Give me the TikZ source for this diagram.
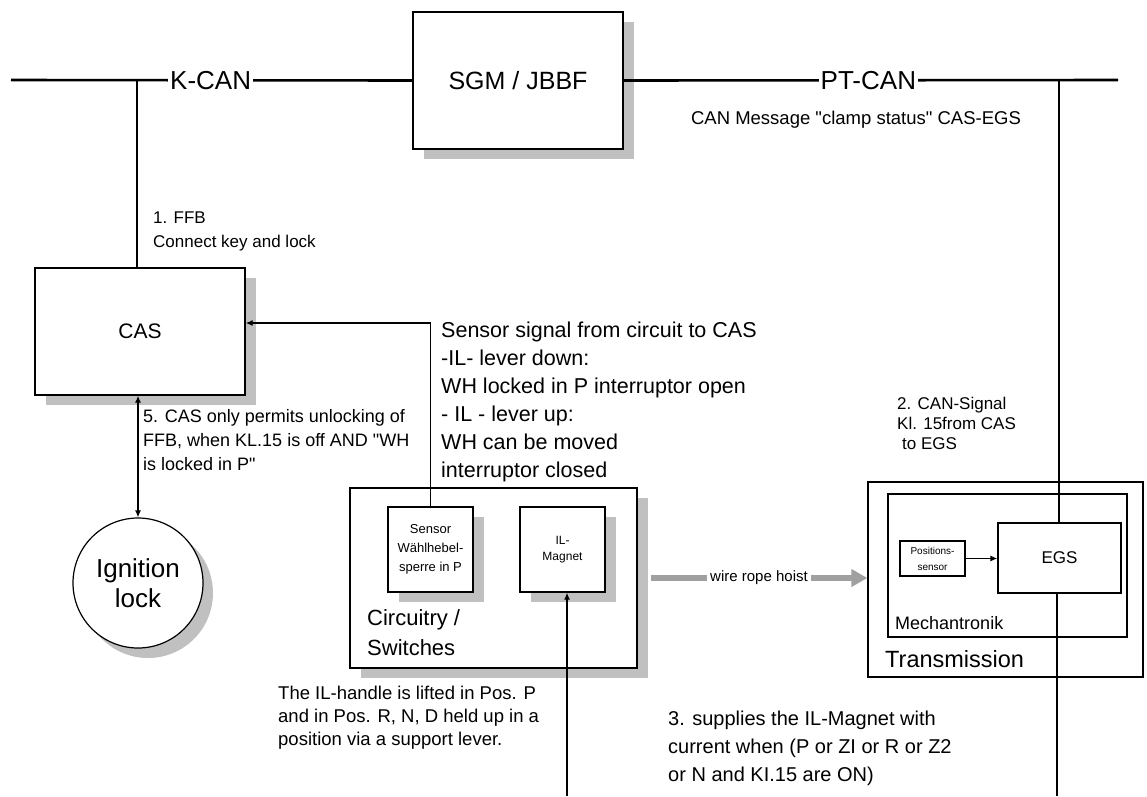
\documentclass[tikz,border=0pt]{standalone}
\usepackage{fontspec}
\setmainfont{Liberation Sans}[Ligatures=TeXOff]
\usetikzlibrary{shadows,arrows.meta,calc}
\definecolor{shadegrey}{RGB}{192,192,192}
\definecolor{hoistgrey}{RGB}{160,160,160}
\newcommand\fs[2]{\fontsize{#1}{#2}\selectfont}
\begin{document}
\begin{tikzpicture}[x=1pt,y=-1pt,
  box/.style={draw, line width=1.3pt, fill=white, inner sep=0pt, rectangle},
  shbox/.style={box, general shadow={fill=shadegrey, shadow xshift=11pt, shadow yshift=-10pt}},
  bus/.style={line width=2.6pt},
  wire/.style={line width=1.3pt},
  tip/.style={-{Latex[length=7pt,width=6pt]}},
  txt/.style={inner sep=0pt, anchor=north west, align=left},
  buslabel/.style={fill=white, inner sep=2pt, font=\fs{26}{30}},
]
\useasboundingbox (0,0) rectangle (1147,796);

% ---------- boxes ----------
\node[shbox, minimum width=210pt, minimum height=137pt, font=\fs{25}{30}] (sgm) at (518,80.5) {SGM / JBBF};
\node[shbox, minimum width=210pt, minimum height=127pt, font=\fs{21}{26}] (cas) at (140,331.5) {CAS};
\node[draw, circle, line width=1.2pt, fill=white, inner sep=0pt, minimum size=130pt, align=center,
      general shadow={fill=shadegrey, shadow xshift=10pt, shadow yshift=-10pt},
      font=\fs{26}{30}] (ign) at (138,583) {Ignition\\lock};

\node[shbox, minimum width=287pt, minimum height=180pt] (circ) at (493.5,578) {};
\node[shbox, minimum width=85pt, minimum height=85pt, align=center, font=\fs{13}{19}] (sens) at (430.5,549.5) {Sensor\\Wählhebel-\\sperre in P};
\node[shbox, minimum width=85pt, minimum height=85pt, align=center, font=\fs{12}{16}] (ilm) at (562.5,549.5) {IL-\\Magnet};
\node[txt, font=\fs{22}{30}] (tcirc) at (367,609) {Circuitry /\\Switches};

\node[box, minimum width=275pt, minimum height=195pt] (trans) at (1005.5,579.5) {};
\node[box, minimum width=239pt, minimum height=143pt] (mech) at (1007.5,565.5) {};
\node[box, minimum width=65pt, minimum height=35pt, align=center, font=\fs{10}{16}] (pos) at (932.5,558.5) {Positions-\\sensor};
\node[box, minimum width=123pt, minimum height=70pt, font=\fs{17}{20}] (egs) at (1059.5,558) {EGS};
\node[txt, font=\fs{18}{22}] (tmech) at (895,616.5) {Mechantronik};
\node[txt, font=\fs{23.5}{28}] (ttrans) at (885,650.5) {Transmission};

% ---------- buses ----------
\coordinate (kl) at (11,80);
\coordinate (kr) at (1118,80);
\coordinate (kdrop) at (137,80);
\coordinate (pdrop) at (1059,80);
\draw[bus] (kl) -- node[pos=0.4975, buslabel] {K-CAN} (sgm.west);
\draw[bus] (sgm.east) -- node[pos=0.495, buslabel] {PT-CAN} (kr);
\draw[bus] (kdrop) -- (kdrop |- cas.north);
\draw[bus] (pdrop) -- (pdrop |- egs.north);

% ---------- connectors ----------
\coordinate (sturn) at (430.5,323);
\draw[wire,tip] (sens.north) -- (sturn) -- (sturn -| cas.east);
\draw[wire,{Latex[length=7pt,width=6pt]}-{Latex[length=7pt,width=6pt]}] (cas.south -| ign.north) -- (ign.north);
\coordinate (ilfoot) at (567,796);
\draw[wire,tip] (ilfoot) -- (ilfoot |- ilm.south);
\draw[wire,tip] (pos.east) -- (pos.east -| egs.west);
\coordinate (egsfoot) at (1057,796);
\draw[wire] (egsfoot |- egs.south) -- (egsfoot);
\draw[line width=6pt, hoistgrey, -{Triangle[length=16pt,width=17pt]}]
  ($(circ.east)+(13,0)$) -- node[fill=white, text=black, font=\fs{15}{18}, inner sep=3pt] {wire rope hoist} (circ.east -| trans.west);

% ---------- texts ----------
\node[font=\fs{18.5}{22}, inner sep=0pt] (tmsg) at (856,120) {CAN Message "clamp status" CAS-EGS};
\node[txt, font=\fs{17}{24}] (t1) at (153,212) {1. FFB\\Connect key and lock};
\node[txt, font=\fs{18}{24}] (t5) at (143,409.5) {5. CAS only permits unlocking of\\FFB, when KL.15 is off AND "WH\\is locked in P"};
\node[txt, font=\fs{21.5}{28}] (ts) at (441,321.5) {Sensor signal from circuit to CAS\\-IL- lever down:\\WH locked in P interruptor open\\- IL - lever up:\\WH can be moved\\interruptor closed};
\node[txt, font=\fs{17}{20}] (t2) at (897,397) {2. CAN-Signal\\Kl. 15from CAS\\\hspace*{5pt}to EGS};
\node[txt, font=\fs{20}{28}] (t3) at (668,711) {3. supplies the IL-Magnet with\\current when (P or ZI or R or Z2\\or N and KI.15 are ON)};
\node[txt, font=\fs{18.5}{23}] (th) at (278,686) {The IL-handle is lifted in Pos. P\\and in Pos. R, N, D held up in a\\position via a support lever.};
\end{tikzpicture}
\end{document}
